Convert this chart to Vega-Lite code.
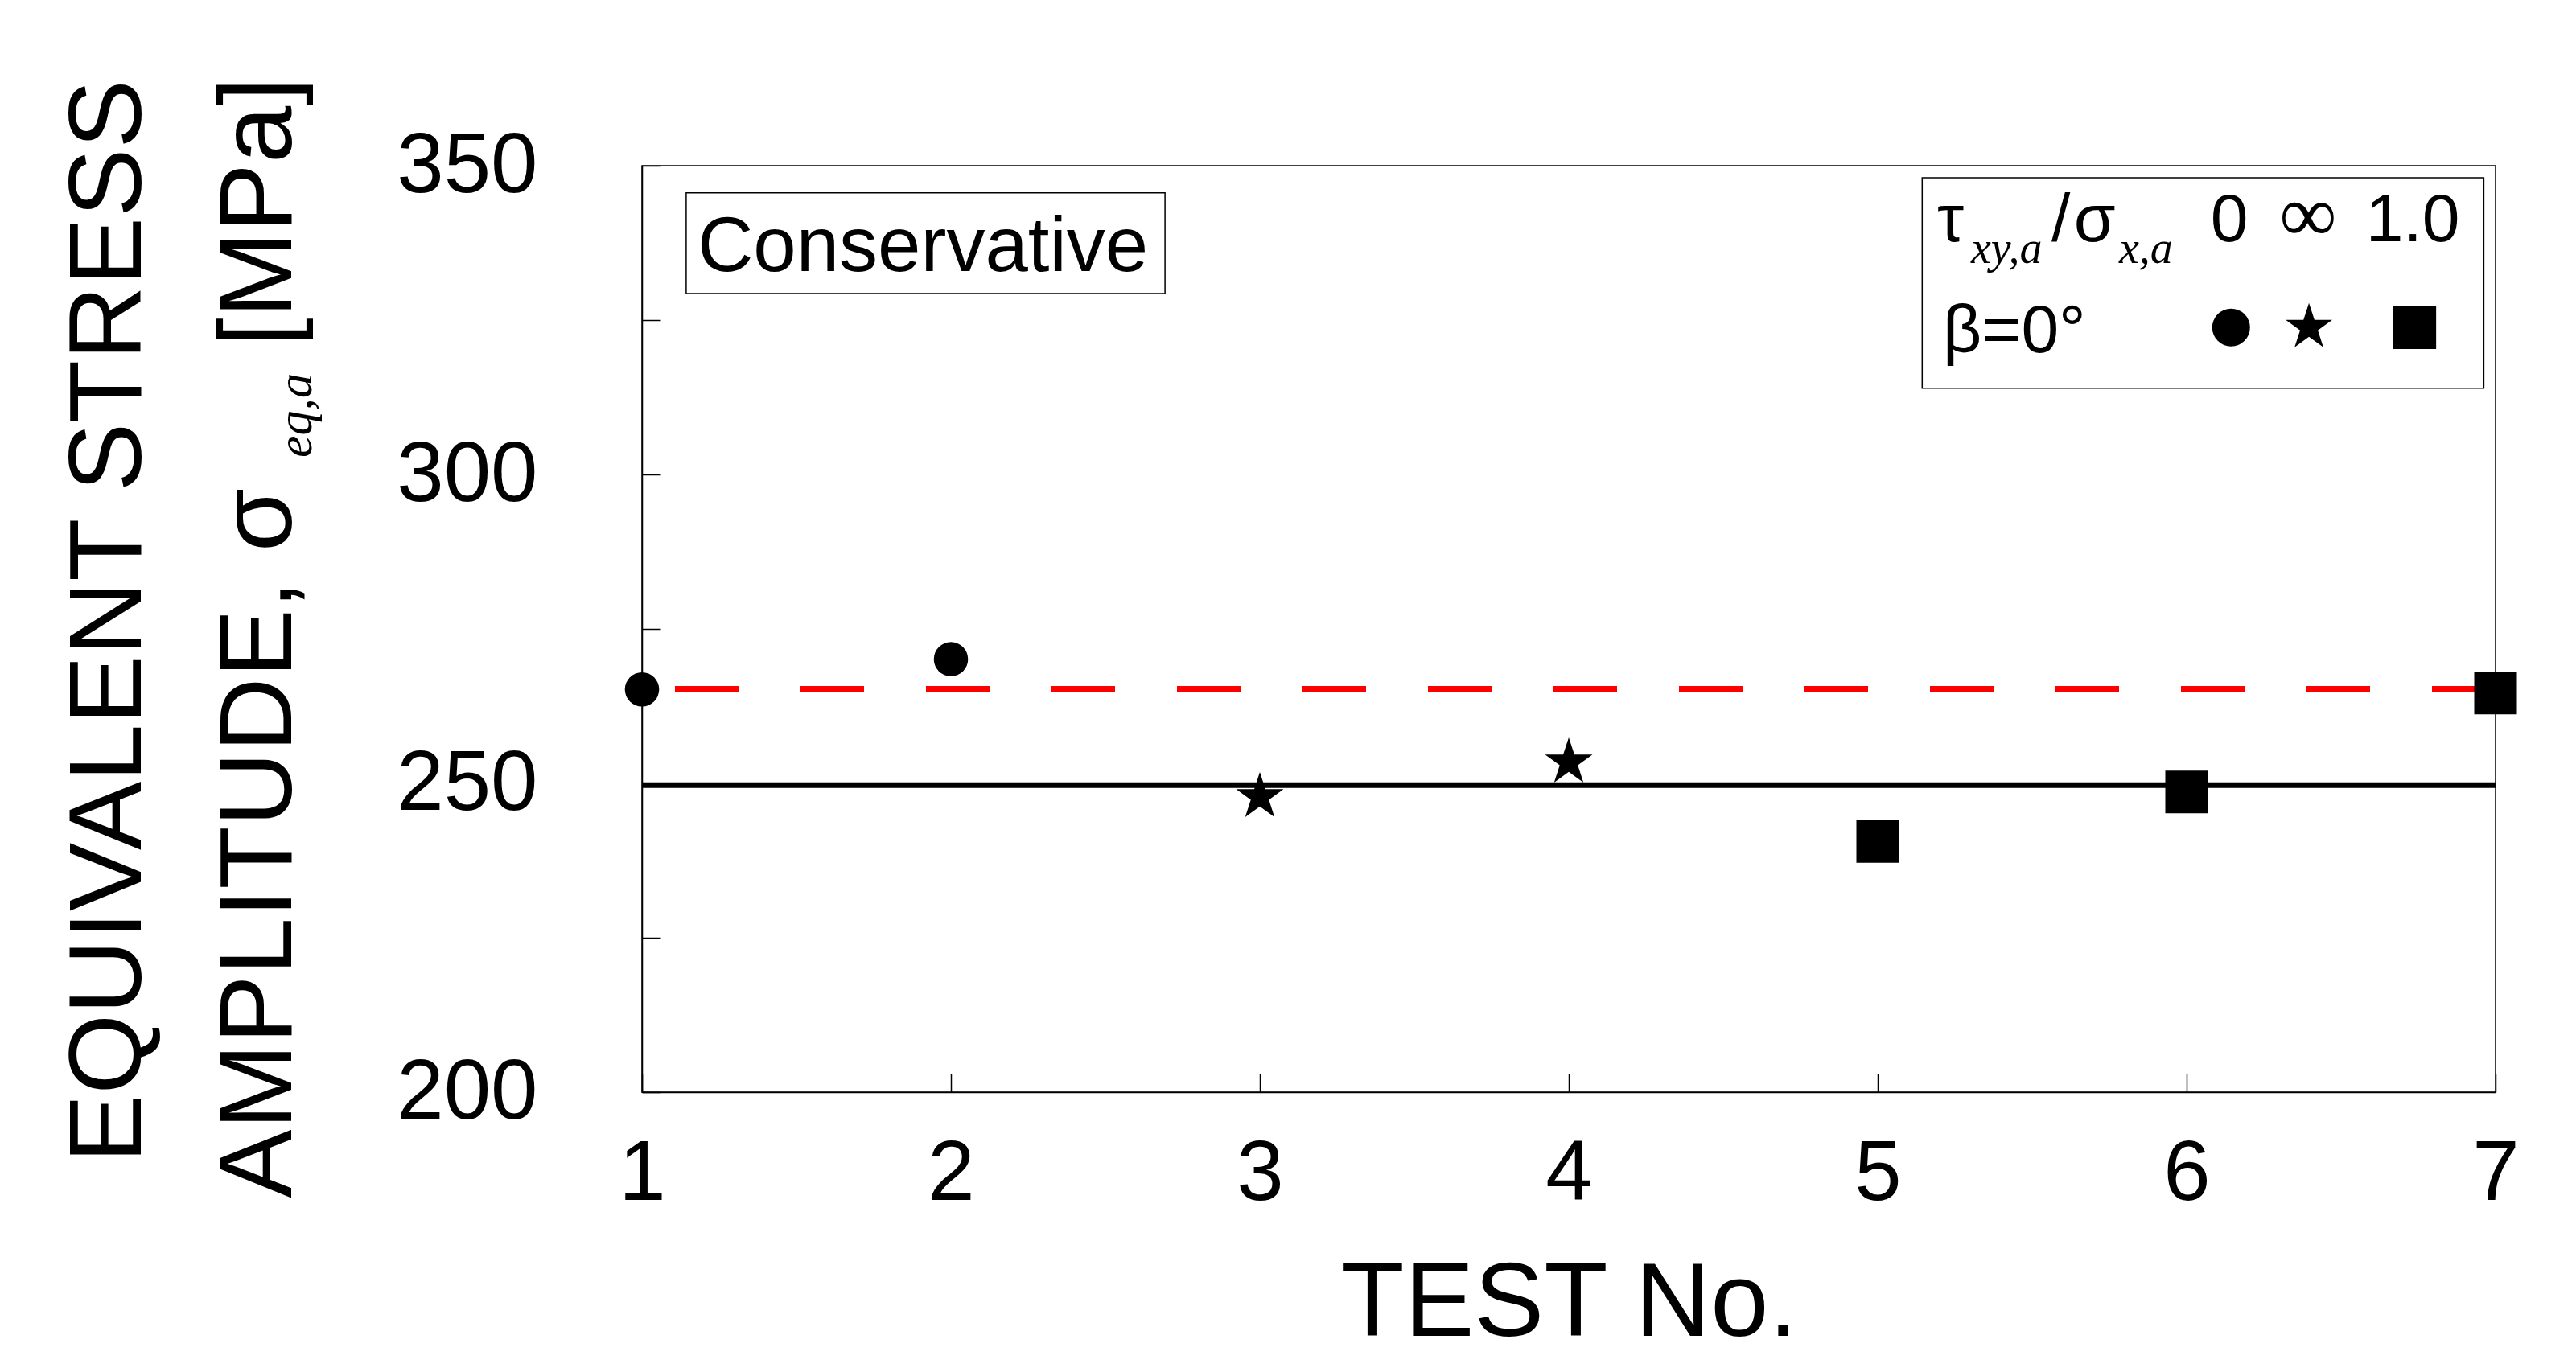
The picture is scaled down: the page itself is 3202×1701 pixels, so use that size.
{
  "$schema": "https://vega.github.io/schema/vega-lite/v6.json",
  "width": 2304,
  "height": 1152,
  "autosize": {"type": "none"},
  "padding": {"left": 798, "top": 206, "right": 100, "bottom": 343},
  "background": "white",
  "config": {
    "view": {"stroke": "black", "strokeWidth": 1.5},
    "font": "Liberation Sans"
  },
  "datasets": {
    "tests": [
      {"test": 1, "stress": 265.2, "ratio": "0"},
      {"test": 2, "stress": 270.1, "ratio": "0"},
      {"test": 3, "stress": 247.8, "ratio": "inf"},
      {"test": 4, "stress": 253.4, "ratio": "inf"},
      {"test": 5, "stress": 240.6, "ratio": "1.0"},
      {"test": 6, "stress": 248.6, "ratio": "1.0"},
      {"test": 7, "stress": 264.6, "ratio": "1.0"}
    ],
    "lines": [
      {"name": "conservative", "stress": 265.3},
      {"name": "mean", "stress": 249.7}
    ],
    "boxes": [
      {"box": "conservative", "x1": 1.143, "x2": 2.693, "y1": 329.3, "y2": 345.6},
      {"box": "legend", "x1": 5.144, "x2": 6.962, "y1": 313.95, "y2": 348.05}
    ],
    "legendSymbols": [
      {"x": 6.144, "y": 323.8, "ratio": "0"},
      {"x": 6.396, "y": 323.8, "ratio": "inf"},
      {"x": 6.738, "y": 323.8, "ratio": "1.0"}
    ],
    "legendTextLeft": [
      {"t": "τ", "x": 5.193, "y": 337.7},
      {"t": "/", "x": 5.5625, "y": 337.7},
      {"t": "σ", "x": 5.635, "y": 337.7},
      {"t": "β=0°", "x": 5.211, "y": 319.77}
    ],
    "legendTextCenter": [
      {"t": "0", "x": 6.138, "y": 337.7},
      {"t": "1.0", "x": 6.732, "y": 337.7}
    ],
    "legendInf": [
      {"t": "∞", "x": 6.393, "y": 337.7}
    ],
    "legendSub": [
      {"t": "xy,a", "x": 5.302, "y": 334.25},
      {"t": "x,a", "x": 5.781, "y": 334.25}
    ],
    "note": [
      {"t": "Conservative", "x": 1.909, "y": 332.9}
    ],
    "yTitleMain": [
      {"t": "AMPLITUDE, σ", "x": -0.1354, "y": 182.86}
    ],
    "yTitleSub": [
      {"t": "eq,a", "x": -0.0703, "y": 302.72}
    ],
    "yTitleUnit": [
      {"t": "[MPa]", "x": -0.1354, "y": 364.28}
    ]
  },
  "layer": [
    {
      "data": {"name": "lines"},
      "transform": [{"filter": "datum.name == 'conservative'"}],
      "mark": {"type": "rule", "color": "#ff0000", "strokeWidth": 7, "strokeDash": [79, 77]},
      "encoding": {
        "y": {
          "field": "stress", "type": "quantitative",
          "scale": {"domain": [200, 350], "nice": false, "zero": false},
          "axis": {
            "title": "EQUIVALENT STRESS",
            "titleFontSize": 128,
            "titleFont": "Liberation Sans",
            "titleFontWeight": "normal",
            "titleColor": "black",
            "titleAngle": -90,
            "titleBaseline": "alphabetic",
            "titleAlign": "center",
            "titleX": -624,
            "titleY": 566,
            "values": [200, 225, 250, 275, 300, 325, 350],
            "labelExpr": "datum.value % 50 == 0 ? datum.label : ''",
            "labelFontSize": 105,
            "labelFont": "Liberation Sans",
            "labelColor": "black",
            "labelPadding": 153,
            "labelBaseline": "middle",
            "tickSize": -23,
            "tickColor": "black",
            "tickWidth": 1.5,
            "domainColor": "black",
            "domainWidth": 1.5,
            "grid": false
          }
        }
      }
    },
    {
      "data": {"name": "lines"},
      "transform": [{"filter": "datum.name == 'mean'"}],
      "mark": {"type": "rule", "color": "black", "strokeWidth": 7},
      "encoding": {
        "y": {"field": "stress", "type": "quantitative", "scale": {"domain": [200, 350], "nice": false, "zero": false}}
      }
    },
    {
      "data": {"name": "boxes"},
      "mark": {"type": "rect", "fill": "white", "stroke": "black", "strokeWidth": 1.5},
      "encoding": {
        "x": {"field": "x1", "type": "quantitative", "scale": {"domain": [1, 7], "nice": false, "zero": false}},
        "x2": {"field": "x2"},
        "y": {"field": "y1", "type": "quantitative", "scale": {"domain": [200, 350], "nice": false, "zero": false}},
        "y2": {"field": "y2"}
      }
    },
    {
      "data": {"name": "tests"},
      "transform": [{"filter": "datum.ratio == '0'"}],
      "mark": {"type": "point", "shape": "circle", "filled": true, "color": "black", "opacity": 1, "size": 1810},
      "encoding": {
        "x": {
          "field": "test", "type": "quantitative",
          "scale": {"domain": [1, 7], "nice": false, "zero": false},
          "axis": {
            "title": "TEST No.",
            "titleFontSize": 130,
            "titleFont": "Liberation Sans",
            "titleFontWeight": "normal",
            "titleColor": "black",
            "titleBaseline": "alphabetic",
            "titleX": 1152,
            "titleY": 302,
            "values": [1, 2, 3, 4, 5, 6, 7],
            "format": "d",
            "labelFontSize": 105,
            "labelFont": "Liberation Sans",
            "labelColor": "black",
            "labelBaseline": "alphabetic",
            "labelPadding": 156,
            "labelFlush": false,
            "labelOverlap": false,
            "tickSize": -23,
            "tickColor": "black",
            "tickWidth": 1.5,
            "domainColor": "black",
            "domainWidth": 1.5,
            "grid": false
          }
        },
        "y": {"field": "stress", "type": "quantitative", "scale": {"domain": [200, 350], "nice": false, "zero": false}}
      }
    },
    {
      "data": {"name": "tests"},
      "transform": [{"filter": "datum.ratio == 'inf'"}],
      "mark": {"type": "point", "shape": "M0,-1L0.2245,-0.309L0.951,-0.309L0.363,0.118L0.588,0.809L0,0.382L-0.588,0.809L-0.363,0.118L-0.951,-0.309L-0.2245,-0.309Z", "filled": true, "color": "black", "opacity": 1, "size": 3844},
      "encoding": {
        "x": {"field": "test", "type": "quantitative", "scale": {"domain": [1, 7], "nice": false, "zero": false}},
        "y": {"field": "stress", "type": "quantitative", "scale": {"domain": [200, 350], "nice": false, "zero": false}}
      }
    },
    {
      "data": {"name": "tests"},
      "transform": [{"filter": "datum.ratio == '1.0'"}],
      "mark": {"type": "point", "shape": "square", "filled": true, "color": "black", "opacity": 1, "size": 2809},
      "encoding": {
        "x": {"field": "test", "type": "quantitative", "scale": {"domain": [1, 7], "nice": false, "zero": false}},
        "y": {"field": "stress", "type": "quantitative", "scale": {"domain": [200, 350], "nice": false, "zero": false}}
      }
    },
    {
      "data": {"name": "legendSymbols"},
      "transform": [{"filter": "datum.ratio == '0'"}],
      "mark": {"type": "point", "shape": "circle", "filled": true, "color": "black", "opacity": 1, "size": 2206},
      "encoding": {
        "x": {"field": "x", "type": "quantitative", "scale": {"domain": [1, 7], "nice": false, "zero": false}},
        "y": {"field": "y", "type": "quantitative", "scale": {"domain": [200, 350], "nice": false, "zero": false}}
      }
    },
    {
      "data": {"name": "legendSymbols"},
      "transform": [{"filter": "datum.ratio == 'inf'"}],
      "mark": {"type": "point", "shape": "M0,-1L0.2245,-0.309L0.951,-0.309L0.363,0.118L0.588,0.809L0,0.382L-0.588,0.809L-0.363,0.118L-0.951,-0.309L-0.2245,-0.309Z", "filled": true, "color": "black", "opacity": 1, "size": 3697},
      "encoding": {
        "x": {"field": "x", "type": "quantitative", "scale": {"domain": [1, 7], "nice": false, "zero": false}},
        "y": {"field": "y", "type": "quantitative", "scale": {"domain": [200, 350], "nice": false, "zero": false}}
      }
    },
    {
      "data": {"name": "legendSymbols"},
      "transform": [{"filter": "datum.ratio == '1.0'"}],
      "mark": {"type": "point", "shape": "square", "filled": true, "color": "black", "opacity": 1, "size": 2862},
      "encoding": {
        "x": {"field": "x", "type": "quantitative", "scale": {"domain": [1, 7], "nice": false, "zero": false}},
        "y": {"field": "y", "type": "quantitative", "scale": {"domain": [200, 350], "nice": false, "zero": false}}
      }
    },
    {
      "data": {"name": "legendTextLeft"},
      "mark": {"type": "text", "font": "Liberation Sans", "fontSize": 84, "align": "left", "baseline": "alphabetic", "color": "black"},
      "encoding": {
        "x": {"field": "x", "type": "quantitative", "scale": {"domain": [1, 7], "nice": false, "zero": false}},
        "y": {"field": "y", "type": "quantitative", "scale": {"domain": [200, 350], "nice": false, "zero": false}},
        "text": {"field": "t"}
      }
    },
    {
      "data": {"name": "legendTextCenter"},
      "mark": {"type": "text", "font": "Liberation Sans", "fontSize": 84, "align": "center", "baseline": "alphabetic", "color": "black"},
      "encoding": {
        "x": {"field": "x", "type": "quantitative", "scale": {"domain": [1, 7], "nice": false, "zero": false}},
        "y": {"field": "y", "type": "quantitative", "scale": {"domain": [200, 350], "nice": false, "zero": false}},
        "text": {"field": "t"}
      }
    },
    {
      "data": {"name": "legendInf"},
      "mark": {"type": "text", "font": "Liberation Serif", "fontSize": 100, "align": "center", "baseline": "alphabetic", "color": "black"},
      "encoding": {
        "x": {"field": "x", "type": "quantitative", "scale": {"domain": [1, 7], "nice": false, "zero": false}},
        "y": {"field": "y", "type": "quantitative", "scale": {"domain": [200, 350], "nice": false, "zero": false}},
        "text": {"field": "t"}
      }
    },
    {
      "data": {"name": "legendSub"},
      "mark": {"type": "text", "font": "Liberation Serif", "fontStyle": "italic", "fontSize": 56, "align": "left", "baseline": "alphabetic", "color": "black"},
      "encoding": {
        "x": {"field": "x", "type": "quantitative", "scale": {"domain": [1, 7], "nice": false, "zero": false}},
        "y": {"field": "y", "type": "quantitative", "scale": {"domain": [200, 350], "nice": false, "zero": false}},
        "text": {"field": "t"}
      }
    },
    {
      "data": {"name": "note"},
      "mark": {"type": "text", "font": "Liberation Sans", "fontSize": 96, "align": "center", "baseline": "alphabetic", "color": "black"},
      "encoding": {
        "x": {"field": "x", "type": "quantitative", "scale": {"domain": [1, 7], "nice": false, "zero": false}},
        "y": {"field": "y", "type": "quantitative", "scale": {"domain": [200, 350], "nice": false, "zero": false}},
        "text": {"field": "t"}
      }
    },
    {
      "data": {"name": "yTitleMain"},
      "mark": {"type": "text", "font": "Liberation Sans", "fontSize": 128, "angle": 270, "align": "left", "baseline": "alphabetic", "color": "black"},
      "encoding": {
        "x": {"field": "x", "type": "quantitative", "scale": {"domain": [1, 7], "nice": false, "zero": false}},
        "y": {"field": "y", "type": "quantitative", "scale": {"domain": [200, 350], "nice": false, "zero": false}},
        "text": {"field": "t"}
      }
    },
    {
      "data": {"name": "yTitleSub"},
      "mark": {"type": "text", "font": "Liberation Serif", "fontStyle": "italic", "fontSize": 62, "angle": 270, "align": "left", "baseline": "alphabetic", "color": "black"},
      "encoding": {
        "x": {"field": "x", "type": "quantitative", "scale": {"domain": [1, 7], "nice": false, "zero": false}},
        "y": {"field": "y", "type": "quantitative", "scale": {"domain": [200, 350], "nice": false, "zero": false}},
        "text": {"field": "t"}
      }
    },
    {
      "data": {"name": "yTitleUnit"},
      "mark": {"type": "text", "font": "Liberation Sans", "fontSize": 128, "angle": 270, "align": "right", "baseline": "alphabetic", "color": "black"},
      "encoding": {
        "x": {"field": "x", "type": "quantitative", "scale": {"domain": [1, 7], "nice": false, "zero": false}},
        "y": {"field": "y", "type": "quantitative", "scale": {"domain": [200, 350], "nice": false, "zero": false}},
        "text": {"field": "t"}
      }
    }
  ]
}
